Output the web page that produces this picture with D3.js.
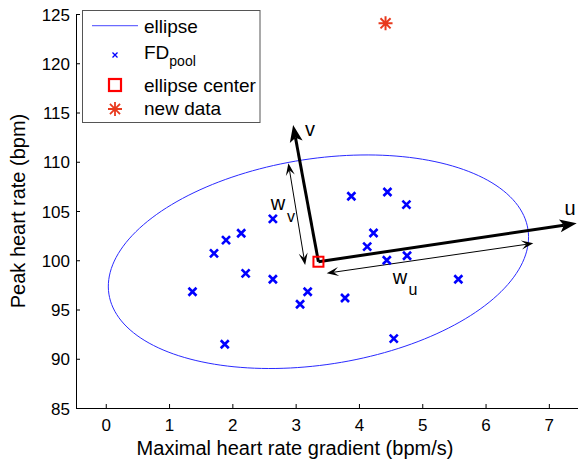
<!DOCTYPE html>
<html lang="en">
<head>
<meta charset="UTF-8">
<title>Ellipse of FD pool</title>
<style>
  body { margin: 0; background: #fff; }
  text { font-family: "Liberation Sans", Arial, Helvetica, sans-serif; fill: #000; }
</style>
</head>
<body>
<svg id="svg" width="578" height="462"></svg>
<script src="https://cdn.jsdelivr.net/npm/d3@7"></script>
<script>
// FD pool points (maximal HR gradient, peak HR)
const poolX = [1.37, 1.71, 1.90, 2.14, 2.21, 1.88, 2.64, 2.64, 3.07, 3.19,
               3.78, 3.88, 4.13, 4.23, 4.44, 4.45, 4.75, 4.76, 4.55, 5.57]
const poolY = [96.8, 100.7, 102.05, 102.74, 98.67, 91.47, 104.2, 98.07, 95.53, 96.8,
               96.17, 106.5, 101.38, 102.77, 100.0, 106.93, 105.64, 100.46, 92.04, 98.07]
const newData = [4.42, 124.05]
const center = [3.36, 99.85]
// ellipse semi-axis vectors, data units
const axisU = [3.31, 3.29]
const axisV = [-0.25, 10.33]
// arrows: [x0, y0, x1, y1]
const arrowU = [3.36, 99.85, 7.44, 103.75]
const arrowV = [3.36, 99.85, 2.96, 113.73]
const arrowWu = [3.49, 98.68, 6.755, 101.72]
const arrowWv = [3.15, 99.52, 2.885, 109.84]
const xTicks = [0, 1, 2, 3, 4, 5, 6, 7]
const yTicks = [85, 90, 95, 100, 105, 110, 115, 120, 125]
const legendLabels = ['ellipse', 'FD', 'ellipse center', 'new data']

const svg = d3.select('#svg')
const x = d3.scaleLinear().domain([-0.47, 7.5]).range([76, 580.5])
const y = d3.scaleLinear().domain([85, 125]).range([408, 14])

// axes
const xAxis = svg.append('g').attr('transform', `translate(0,${y(85)})`)
  .call(d3.axisBottom(x).tickValues(xTicks).tickSize(-4).tickPadding(11).tickSizeOuter(0))
const yAxis = svg.append('g').attr('transform', `translate(${x(-0.47)},0)`)
  .call(d3.axisLeft(y).tickValues(yTicks).tickSize(-4).tickPadding(6).tickSizeOuter(0))
svg.selectAll('.domain').attr('stroke', '#000').attr('stroke-width', 1)
svg.selectAll('.tick line').attr('stroke', '#000')
xAxis.selectAll('text').attr('font-size', 17).attr('dy', '0.71em')
yAxis.selectAll('text').attr('font-size', 17).attr('dy', '0.36em')

svg.append('text').attr('x', 295).attr('y', 455).attr('text-anchor', 'middle')
  .attr('font-size', 20).text('Maximal heart rate gradient (bpm/s)')
svg.append('text').attr('transform', 'translate(25,211) rotate(-90)').attr('text-anchor', 'middle')
  .attr('font-size', 20).text('Peak heart rate (bpm)')

// ellipse
const angles = d3.range(0, 361, 2).map(a => a * Math.PI / 180)
svg.append('path')
  .datum(angles)
  .attr('fill', 'none').attr('stroke', '#2a2aff').attr('stroke-width', 1)
  .attr('d', d3.line()
    .x(t => x(center[0] + axisU[0] * Math.cos(t) + axisV[0] * Math.sin(t)))
    .y(t => y(center[1] + axisU[1] * Math.cos(t) + axisV[1] * Math.sin(t))))

// arrows
function head(g, px, py, ang, len, half, back, color) {
  const c = Math.cos(ang), s = Math.sin(ang)
  const pts = [[0, 0], [-len, half], [-len + back, 0], [-len, -half]]
    .map(([a, b]) => [px + a * c - b * s, py + a * s + b * c])
  g.append('path').attr('d', 'M' + pts.join('L') + 'Z').attr('fill', color)
}
function arrow(a, width, len, half, back, both) {
  const x0 = x(a[0]), y0 = y(a[1]), x1 = x(a[2]), y1 = y(a[3])
  const ang = Math.atan2(y1 - y0, x1 - x0)
  const g = svg.append('g')
  const trim = len - back
  g.append('line')
    .attr('x1', both ? x0 + trim * Math.cos(ang) : x0).attr('y1', both ? y0 + trim * Math.sin(ang) : y0)
    .attr('x2', x1 - trim * Math.cos(ang)).attr('y2', y1 - trim * Math.sin(ang))
    .attr('stroke', '#000').attr('stroke-width', width)
  head(g, x1, y1, ang, len, half, back, '#000')
  if (both) head(g, x0, y0, ang + Math.PI, len, half, back, '#000')
}
arrow(arrowU, 3, 17, 6.5, 4, false)
arrow(arrowV, 3, 17, 6.5, 4, false)
arrow(arrowWu, 1, 12, 4.5, 5, true)
arrow(arrowWv, 1, 12, 4.5, 5, true)

svg.append('text').attr('x', 570).attr('y', 215).attr('text-anchor', 'middle').attr('font-size', 20).text('u')
svg.append('text').attr('x', 310).attr('y', 136).attr('text-anchor', 'middle').attr('font-size', 20).text('v')
svg.append('text').attr('x', 278).attr('y', 210).attr('text-anchor', 'middle').attr('font-size', 20).text('w')
svg.append('text').attr('x', 291).attr('y', 222).attr('text-anchor', 'middle').attr('font-size', 16).text('v')
svg.append('text').attr('x', 400).attr('y', 284).attr('text-anchor', 'middle').attr('font-size', 20).text('w')
svg.append('text').attr('x', 413).attr('y', 295).attr('text-anchor', 'middle').attr('font-size', 16).text('u')

// pool markers
const xMark = r => `M${-r},${-r}L${r},${r}M${-r},${r}L${r},${-r}`
svg.append('g').selectAll('path')
  .data(poolX.map((v, i) => [v, poolY[i]]))
  .join('path')
  .attr('transform', d => `translate(${x(d[0])},${y(d[1])})`)
  .attr('d', xMark(4)).attr('stroke', '#0000ff').attr('stroke-width', 2.6).attr('fill', 'none')

// center square
svg.append('rect')
  .attr('x', x(center[0]) - 5).attr('y', y(center[1]) - 5).attr('width', 10).attr('height', 10)
  .attr('fill', 'none').attr('stroke', '#ff0000').attr('stroke-width', 2)

// new data asterisk
const star = r => {
  const d = r * 0.72
  return `M0,${-r}L0,${r}M${-r},0L${r},0M${-d},${-d}L${d},${d}M${-d},${d}L${d},${-d}`
}
svg.append('path')
  .attr('transform', `translate(${x(newData[0])},${y(newData[1])})`)
  .attr('d', star(7)).attr('stroke', '#e8391d').attr('stroke-width', 2).attr('fill', 'none')

// legend
const lg = svg.append('g')
lg.append('rect').attr('x', 82.5).attr('y', 10.5).attr('width', 177.5).attr('height', 112)
  .attr('fill', '#fff').attr('stroke', '#555').attr('stroke-width', 1)
const rowY = [25.7, 55, 85, 109]
const textDy = [7, 4, 7, 6]
lg.append('line').attr('x1', 92).attr('x2', 138).attr('y1', rowY[0]).attr('y2', rowY[0])
  .attr('stroke', '#6b6bff').attr('stroke-width', 1.2)
lg.append('path').attr('transform', `translate(115,${rowY[1]})`).attr('d', xMark(2.5))
  .attr('stroke', '#0000ff').attr('stroke-width', 1.3)
lg.append('rect').attr('x', 109).attr('y', rowY[2] - 6).attr('width', 12).attr('height', 12)
  .attr('fill', 'none').attr('stroke', '#ff0000').attr('stroke-width', 2.2)
lg.append('path').attr('transform', `translate(115,${rowY[3]})`).attr('d', star(7))
  .attr('stroke', '#e8391d').attr('stroke-width', 1.8)
legendLabels.forEach((t, i) => {
  const tx = lg.append('text').attr('x', 144).attr('y', rowY[i] + textDy[i]).attr('font-size', 19).text(t)
  if (i === 1) tx.append('tspan').attr('font-size', 14).attr('dy', 7).text('pool')
})
</script>
</body>
</html>
